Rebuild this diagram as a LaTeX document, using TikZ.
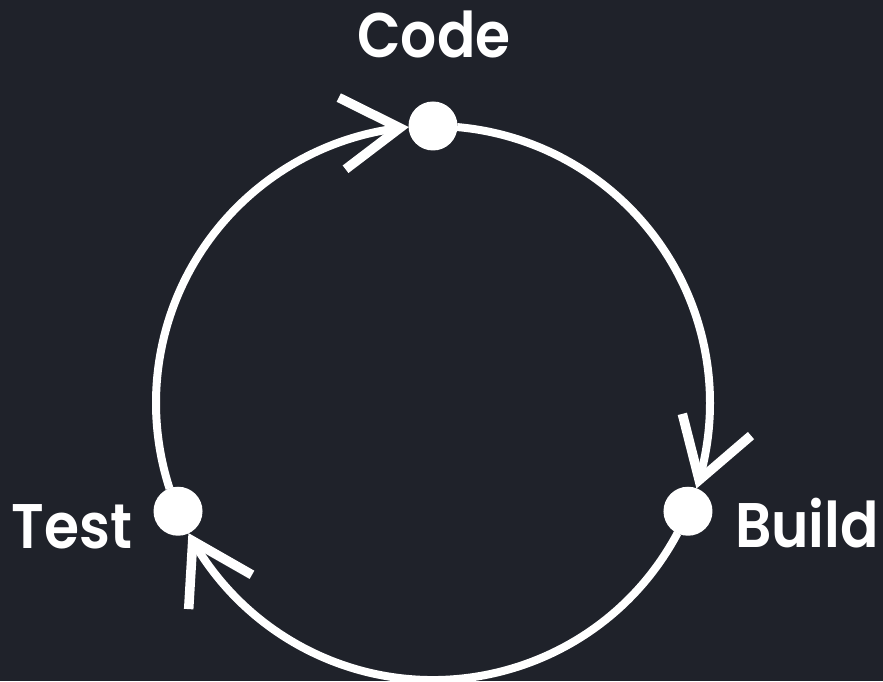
\documentclass[tikz,border=0pt]{standalone}
\usepackage{fontspec}
\setmainfont{Poppins}[BoldFont={Poppins SemiBold}, BoldFeatures={FakeStretch=0.9}]
\usetikzlibrary{arrows.meta, bending}
\definecolor{bgdark}{RGB}{31,34,42}

\begin{document}
\begin{tikzpicture}[x=1pt,y=1pt]
    % Stili del ciclo
    \tikzset{
        cycle_line/.style={
            draw=white, % Linea bianca
            line width=8pt
        },
        cycle_arrow/.style={
            cycle_line,
            -{Straight Barb[length=58pt, width=72pt, line width=9.5pt, flex]} % Punta aperta
        },
        stage_dot/.style={
            circle,
            fill=white,
            minimum size=49pt, % Diametro del punto
            inner sep=0pt
        },
        stage_name/.style={
            text=white,
            font=\fontsize{63}{63}\selectfont\bfseries,
            anchor=base,
            inner sep=0pt
        }
    }

    % Sfondo
    \useasboundingbox (0,0) rectangle (883,681);
    \fill[bgdark] (0,0) rectangle (883,681);

    \coordinate (centre) at (433,278);

    % Archi con frecce (senso orario)
    \draw[cycle_arrow] ([shift={(198:277)}]centre) arc[start angle=198, end angle=95, radius=277];
    \draw[cycle_arrow] ([shift={(85:277)}]centre) arc[start angle=85, end angle=-18, radius=277];
    \draw[cycle_arrow] ([shift={(-28:277)}]centre) arc[start angle=-28, end angle=-152, radius=277];

    % Punti
    \node[stage_dot] (code) at ([shift={(90:277)}]centre) {};
    \node[stage_dot] (build) at ([shift={(-23:277)}]centre) {};
    \node[stage_dot] (test) at ([shift={(203:277)}]centre) {};

    % Etichette
    \node[stage_name] (code_name) at (434,623) {Code};
    \node[stage_name] (build_name) at (807,134) {Build};
    \node[stage_name] (test_name) at (72,133) {Test};
\end{tikzpicture}
\end{document}
